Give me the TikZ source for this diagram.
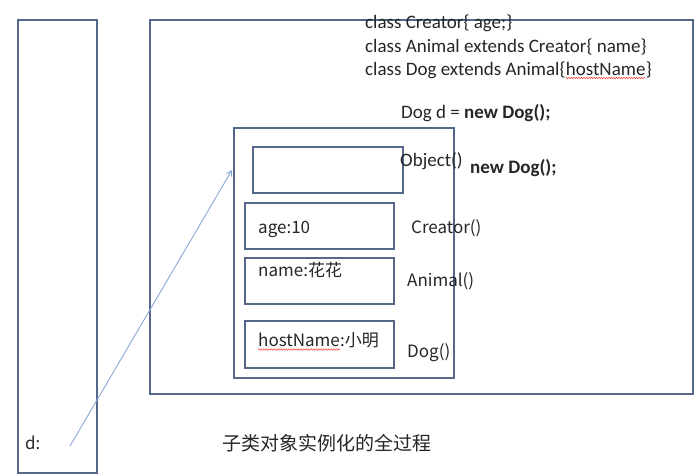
\documentclass[tikz,border=0pt]{standalone}
\usepackage{fontspec}
\setmainfont{Carlito}
\newfontfamily\cjk{Noto Sans CJK SC}
\usetikzlibrary{decorations.pathmorphing,arrows.meta}
\definecolor{boxc}{HTML}{56678C}
\definecolor{arrc}{HTML}{8CA8D8}
\definecolor{txtc}{HTML}{262626}
\tikzset{
  frame/.style={draw=boxc, line width=1.5pt, anchor=north west, inner sep=0pt},
  code/.style={anchor=base west, inner sep=0pt, text=txtc, font=\fontsize{19}{21}\selectfont},
  lbl/.style={anchor=base west, inner sep=0pt, text=txtc, font=\cjk\fontsize{17}{19}\selectfont},
  wavy/.style={draw=red!75, line width=0.5pt, decorate, decoration={snake, amplitude=0.7pt, segment length=2.5pt}},
  ptr/.style={draw=arrc, line width=0.9pt, -{Straight Barb[length=5pt,width=6pt]}},
}
\begin{document}
\begin{tikzpicture}[x=1pt,y=-1pt]
\useasboundingbox[fill=white] (0,0) rectangle (700,475);
% boxes
\node[frame, minimum width=79pt, minimum height=453pt] (stack) at (17,19) {};
\node[frame, minimum width=543pt, minimum height=374pt] (heap) at (149,19) {};
\node[frame, minimum width=220pt, minimum height=250pt] (obj) at (233,127) {};
\node[frame, minimum width=150pt, minimum height=46pt] (objbox) at (252,146) {};
\node[frame, minimum width=149pt, minimum height=46pt] (agebox) at (244,202) {};
\node[frame, minimum width=149pt, minimum height=46pt] (namebox) at (244,257) {};
\node[frame, minimum width=149pt, minimum height=47pt] (hostbox) at (244,320) {};
% code lines
\node[code] (l1) at (365,28) {class Creator\{ age;\}};
\node[code] (l2) at (365,52) {class Animal extends Creator\{ name\}};
\node[code] (l3) at (365,75) {class Dog extends Animal\{};
\node[code] (l3h) at (l3.base east) {hostName};
\node[code] (l3e) at (l3h.base east) {\}};
\draw[wavy] ([yshift=-3pt]l3h.base west) -- ([yshift=-3pt]l3h.base east);
\node[code] (l4) at (401,118) {Dog d = \textbf{new Dog();}};
\node[code] (l5) at (400,166) {Object()};
\node[code] (l6) at (470,173) {\textbf{new Dog();}};
% constructor labels
\node[lbl] (c1) at (411,233) {Creator()};
\node[lbl] (c2) at (407,286) {Animal()};
\node[lbl] (c3) at (407,357) {Dog()};
% field labels
\node[lbl] (f1) at (258,233) {age:10};
\node[lbl] (f2) at (258,276) {name:花花};
\node[lbl] (f3) at (258,346) {hostName};
\node[lbl] (f3b) at (f3.base east) {:小明};
\draw[wavy] ([yshift=-3.5pt]f3.base west) -- ([yshift=-3.5pt]f3.base east);
% stack variable
\node[lbl] (dvar) at (25,449) {d:};
\coordinate (dstart) at (70,446);
\coordinate (tip) at (232,170);
\draw[ptr] (dstart) -- (tip);
% caption
\node[anchor=base west, inner sep=0pt, text=txtc, font=\cjk\fontsize{19}{21}\selectfont] (cap) at (222,450) {子类对象实例化的全过程};
\end{tikzpicture}
\end{document}
